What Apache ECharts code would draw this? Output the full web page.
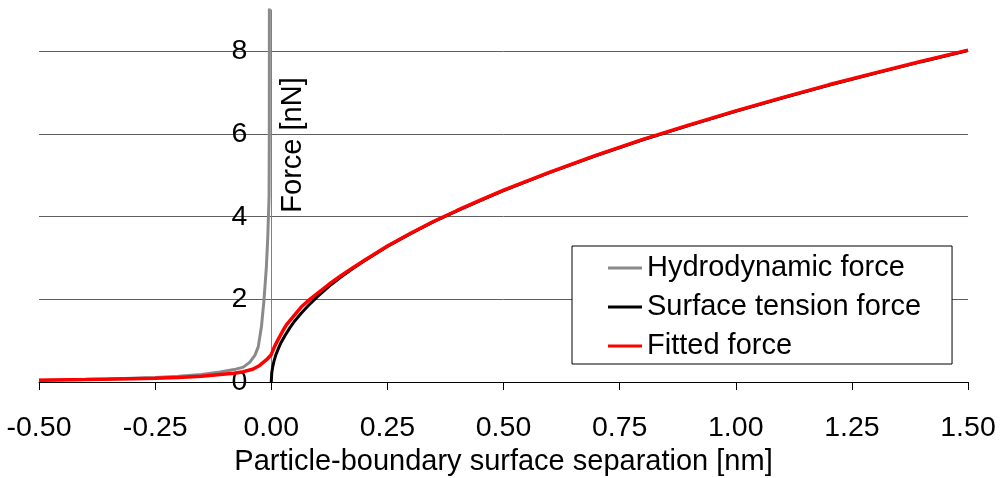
<!DOCTYPE html>
<html>
<head>
<meta charset="utf-8">
<script src="https://cdn.jsdelivr.net/npm/echarts@6/dist/echarts.min.js"></script>
<style>
  html, body { margin: 0; padding: 0; background: #ffffff; }
  #chart { width: 1005px; height: 478px; }
</style>
</head>
<body>
<div id="chart"></div>
<script>
// Separation [nm] and force [nN] samples for each curve
const hydroX = [-0.5, -0.4, -0.35, -0.3, -0.25, -0.2, -0.15, -0.11, -0.08, -0.06, -0.046, -0.035, -0.028, -0.021, -0.0155, -0.0104, -0.0075, -0.0055, -0.0047, -0.0042, -0.004];
const hydroF = [0.045, 0.06, 0.07, 0.09, 0.11, 0.14, 0.18, 0.24, 0.3, 0.36, 0.48, 0.65, 0.85, 1.35, 2.0, 2.8, 3.5, 4.2, 4.5, 6.0, 9.6];

const tensionX = [0, 0.001, 0.003, 0.006, 0.01, 0.015, 0.02, 0.03, 0.04, 0.05, 0.065, 0.08, 0.1, 0.125, 0.15, 0.175, 0.2, 0.25, 0.3, 0.35, 0.4, 0.45, 0.5, 0.6, 0.7, 0.8, 0.9, 1.0, 1.1, 1.2, 1.3, 1.4, 1.5];
const tensionF = [0, 0.21, 0.36, 0.51, 0.66, 0.8, 0.93, 1.13, 1.31, 1.47, 1.67, 1.85, 2.07, 2.32, 2.54, 2.74, 2.93, 3.28, 3.59, 3.88, 4.14, 4.39, 4.63, 5.07, 5.48, 5.86, 6.21, 6.55, 6.87, 7.18, 7.47, 7.75, 8.02];

const fittedX = [-0.5, -0.4, -0.3, -0.25, -0.2, -0.15, -0.11, -0.08, -0.06, -0.04, -0.025, -0.01, 0, 0.003, 0.008, 0.015, 0.025, 0.033, 0.05, 0.065, 0.083, 0.1, 0.125, 0.15, 0.175, 0.2, 0.25, 0.3, 0.35, 0.4, 0.45, 0.5, 0.6, 0.7, 0.8, 0.9, 1.0, 1.1, 1.2, 1.3, 1.4, 1.5];
const fittedF = [0.045, 0.06, 0.08, 0.09, 0.11, 0.14, 0.18, 0.21, 0.25, 0.31, 0.4, 0.54, 0.66, 0.75, 0.88, 1.03, 1.24, 1.39, 1.62, 1.82, 2.0, 2.15, 2.37, 2.57, 2.76, 2.94, 3.29, 3.6, 3.89, 4.15, 4.4, 4.64, 5.08, 5.49, 5.87, 6.22, 6.56, 6.88, 7.19, 7.48, 7.76, 8.03];

const seriesNames = ['Hydrodynamic force', 'Surface tension force', 'Fitted force'];
const seriesColors = ['#8a8a8a', '#000000', '#ff0000'];
const xAxisTitle = 'Particle-boundary surface separation [nm]';
const yAxisTitle = 'Force [nN]';

const X_MIN = -0.5, X_MAX = 1.5, X_STEP = 0.25;
const Y_MIN = 0, Y_MAX = 9, Y_STEP = 2;

const FONT = "'Liberation Sans', Arial, Helvetica, sans-serif";

const CHART_W = 1005;
const GRID = { left: 39, right: 37, top: 10, bottom: 96 };

function pairs(xs, ys) {
  return xs.map((x, i) => [x, ys[i]]);
}

// The force axis sits where the separation is zero; shift it inward from the left edge
const plotWidth = CHART_W - GRID.left - GRID.right;
const yAxisShift = -((0 - X_MIN) / (X_MAX - X_MIN)) * plotWidth;

const chart = echarts.init(document.getElementById('chart'), null, { renderer: 'canvas' });

const curveData = [pairs(hydroX, hydroF), pairs(tensionX, tensionF), pairs(fittedX, fittedF)];
const widths = [3, 3, 3.5];

chart.setOption({
  animation: false,
  backgroundColor: '#ffffff',
  textStyle: { fontFamily: FONT, color: '#000' },
  grid: {
    left: GRID.left, right: GRID.right, top: GRID.top, bottom: GRID.bottom,
    containLabel: false,
    outerBoundsMode: 'none'
  },
  legend: {
    orient: 'vertical',
    left: 572,
    top: 246,
    backgroundColor: '#ffffff',
    borderColor: '#000000',
    borderWidth: 1,
    borderRadius: 0,
    padding: [7.5, 31, 3.5, 36],
    itemGap: 10,
    itemWidth: 34,
    itemHeight: 3,
    icon: 'rect',
    textStyle: { fontFamily: FONT, fontSize: 29, color: '#000' },
    data: seriesNames
  },
  xAxis: {
    type: 'value',
    min: X_MIN,
    max: X_MAX,
    interval: X_STEP,
    name: xAxisTitle,
    nameLocation: 'middle',
    nameGap: 65,
    nameTextStyle: { fontFamily: FONT, fontSize: 29, color: '#000' },
    axisLine: { onZero: false, lineStyle: { color: '#000', width: 1 } },
    axisTick: { show: true, length: 8, lineStyle: { color: '#000' } },
    axisLabel: {
      fontFamily: FONT, fontSize: 28.5, color: '#000', margin: 32,
      formatter: v => v.toFixed(2)
    },
    splitLine: { show: false }
  },
  yAxis: {
    type: 'value',
    position: 'left',
    offset: yAxisShift,
    min: Y_MIN,
    max: Y_MAX,
    interval: Y_STEP,
    axisLine: { show: true, onZero: false, lineStyle: { color: '#808080', width: 1 } },
    axisTick: { show: false },
    axisLabel: {
      fontFamily: FONT, fontSize: 28.5, color: '#000', margin: 24,
      showMaxLabel: false
    },
    splitLine: {
      show: true,
      showMinLine: false,
      showMaxLine: false,
      lineStyle: { color: '#606060', width: 1 }
    }
  },
  graphic: [{
    type: 'text',
    x: 293,
    y: 145,
    rotation: Math.PI / 2,
    style: {
      text: yAxisTitle,
      fontFamily: FONT,
      fontSize: 29,
      fill: '#000',
      align: 'center',
      verticalAlign: 'middle'
    },
    z: 10
  }],
  series: seriesNames.map((name, i) => ({
    name: name,
    type: 'line',
    data: curveData[i],
    showSymbol: false,
    symbol: 'none',
    clip: true,
    smooth: false,
    color: seriesColors[i],
    itemStyle: { color: seriesColors[i] },
    lineStyle: { color: seriesColors[i], width: widths[i] },
    z: 3 + i
  }))
});
</script>
</body>
</html>
